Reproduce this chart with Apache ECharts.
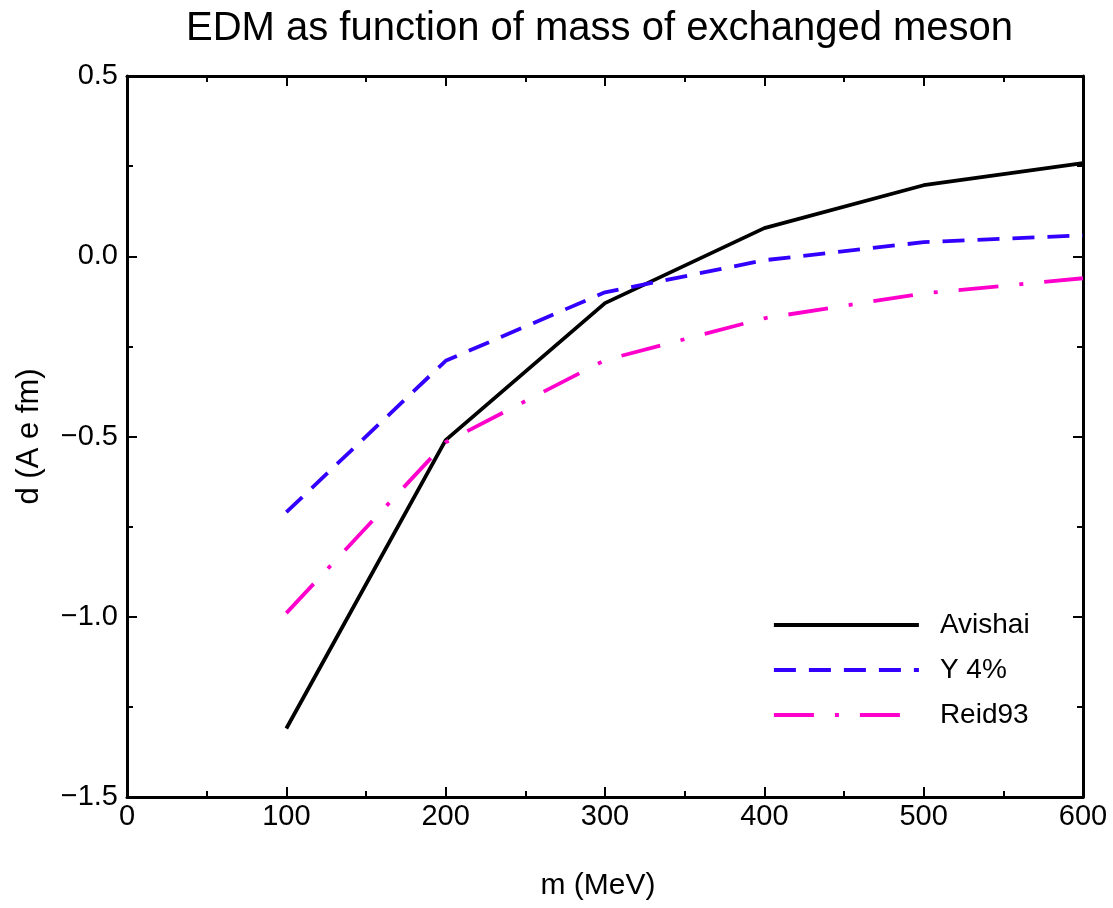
<!DOCTYPE html>
<html><head><meta charset="utf-8">
<script src="https://cdn.jsdelivr.net/npm/echarts@6/dist/echarts.min.js"></script>
<style>html,body{margin:0;padding:0;background:#fff}#c{width:1113px;height:908px}</style>
</head><body><div id="c"></div>
<script>
const masses = [100, 200, 300, 400, 500, 600];
const avishai = [-1.31, -0.51, -0.13, 0.078, 0.197, 0.258];
const y4 = [-0.71, -0.29, -0.10, -0.011, 0.039, 0.058];
const reid93 = [-0.99, -0.516, -0.288, -0.172, -0.103, -0.061];
const seriesNames = ['Avishai', 'Y 4%', 'Reid93'];
const titleText = 'EDM as function of mass of exchanged meson';
const xName = 'm (MeV)';
const yName = 'd (A e fm)';

const FONT = '"Liberation Sans", Arial, Helvetica, sans-serif';
const pair = (arr) => masses.map((m, i) => [m, arr[i]]);
const fmtY = v => (v < 0 ? '\u2212' : '') + Math.abs(v).toFixed(1);

const axisCommon = () => ({
  axisLine: {show: true, onZero: false, lineStyle: {color: '#000', width: 3}},
  axisTick: {show: true, inside: true, length: 10, lineStyle: {color: '#000', width: 2}},
  minorTick: {show: true, splitNumber: 2, length: 6, lineStyle: {color: '#000', width: 2}},
  splitLine: {show: false},
  minorSplitLine: {show: false}
});

const chart = echarts.init(document.getElementById('c'), null, {renderer: 'canvas'});
chart.setOption({
  backgroundColor: '#fff',
  animation: false,
  title: {text: titleText, left: 181, top: 4,
    textStyle: {fontFamily: FONT, fontSize: 40, fontWeight: 'normal', color: '#000'}},
  grid: {left: 127, right: 30, top: 76, bottom: 111},
  legend: {
    orient: 'vertical', left: 767, top: 606, itemWidth: 145, itemHeight: 32, itemGap: 17,
    itemStyle: {opacity: 0},
    lineStyle: {width: 3.8},
    textStyle: {fontFamily: FONT, fontSize: 28, color: '#000', padding: [0, 0, 0, 16]},
    data: seriesNames
  },
  xAxis: [
    Object.assign({type: 'value', min: 0, max: 600, interval: 100, position: 'bottom',
      name: xName, nameLocation: 'middle', nameGap: 74,
      nameTextStyle: {fontFamily: FONT, fontSize: 30, color: '#000', padding: [0, 14, 0, 0]},
      axisLabel: {fontFamily: FONT, fontSize: 29, color: '#000', margin: 5}}, axisCommon()),
    Object.assign({type: 'value', min: 0, max: 600, interval: 100, position: 'top',
      axisLabel: {show: false}}, axisCommon())
  ],
  yAxis: [
    Object.assign({type: 'value', min: -1.5, max: 0.5, interval: 0.5, position: 'left',
      name: yName, nameLocation: 'middle', nameGap: 82, nameRotate: 90,
      nameTextStyle: {fontFamily: FONT, fontSize: 31, color: '#000'},
      axisLabel: {fontFamily: FONT, fontSize: 29, color: '#000', margin: 9, formatter: fmtY}}, axisCommon()),
    Object.assign({type: 'value', min: -1.5, max: 0.5, interval: 0.5, position: 'right',
      axisLabel: {show: false}}, axisCommon())
  ],
  series: [
    {name: seriesNames[0], type: 'line', data: pair(avishai), symbol: 'none',
      lineStyle: {color: '#000', width: 3.8, type: 'solid'}, itemStyle: {color: '#000'}},
    {name: seriesNames[1], type: 'line', data: pair(y4), symbol: 'none',
      lineStyle: {color: '#3300ff', width: 3.8, type: [22, 13]}, itemStyle: {color: '#3300ff'}},
    {name: seriesNames[2], type: 'line', data: pair(reid93), symbol: 'none',
      lineStyle: {color: '#ff00cc', width: 3.8, type: [40, 21, 4, 21]}, itemStyle: {color: '#ff00cc'}}
  ]
});
</script></body></html>
